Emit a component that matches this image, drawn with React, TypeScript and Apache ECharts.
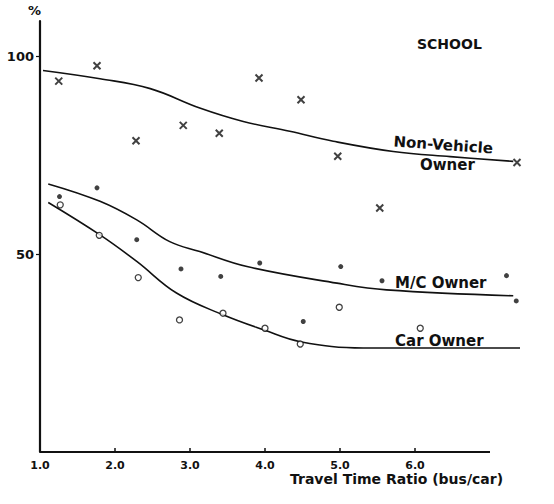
import React, { useEffect, useRef } from "react";
import * as echarts from "echarts";

// Scatter observations [travel time ratio, %]
const nonVehiclePoints: number[][] = [
  [1.25, 93.8], [1.76, 97.7], [2.28, 78.7], [2.91, 82.6], [3.39, 80.6],
  [3.92, 94.6], [4.48, 89.1], [4.97, 74.8], [5.53, 61.7], [7.36, 73.2],
];
const mcPoints: number[][] = [
  [1.26, 64.6], [1.76, 66.8], [2.29, 53.7], [2.88, 46.3], [3.41, 44.4],
  [3.93, 47.8], [4.51, 33.0], [5.01, 46.9], [5.56, 43.3], [7.22, 44.6], [7.35, 38.2],
];
const carPoints: number[][] = [
  [1.27, 62.5], [1.79, 54.8], [2.31, 44.1], [2.86, 33.4], [3.44, 35.1],
  [4.0, 31.3], [4.47, 27.3], [4.99, 36.6], [6.07, 31.3],
];

// Fitted curves
const nonVehicleCurve: number[][] = [
  [1.04, 96.5], [1.8, 94.4], [2.47, 91.9], [3.13, 87.0], [3.71, 83.6],
  [4.33, 81.1], [4.91, 78.6], [5.71, 76.0], [6.47, 74.7], [7.31, 73.5],
];
const mcCurve: number[][] = [
  [1.11, 67.8], [1.8, 63.4], [2.29, 58.7], [2.73, 53.2], [3.13, 50.7],
  [3.76, 46.9], [4.96, 42.7], [5.62, 41.0], [7.31, 39.5],
];
const carCurve: number[][] = [
  [1.11, 63.1], [1.8, 54.9], [2.29, 48.2], [2.82, 40.2], [3.44, 34.7],
  [3.98, 30.9], [4.47, 27.9], [5.31, 26.3], [7.4, 26.3],
];

const baseline: number[][] = [[1, 0], [7, 0]];
const xLabels = [1, 2, 3, 4, 5, 6];
const xTicks = [2, 3, 4, 5, 6];
const yLabels = [50, 100];

const FONT = "DejaVu Sans";
const INK = "#111";

export default function App() {
  const ref = useRef<HTMLDivElement>(null);
  useEffect(() => {
    if (!ref.current) return;
    const chart = echarts.init(ref.current, null, { renderer: "svg" });
    const curve = (data: number[][]) => ({
      type: "line",
      data,
      smooth: 0.4,
      showSymbol: false,
      symbol: "none",
      lineStyle: { color: INK, width: 1.6 },
      z: 2,
    });
    chart.setOption({
      animation: false,
      backgroundColor: "#fff",
      grid: { left: 40, right: 34, top: 21, bottom: 52 },
      xAxis: {
        type: "value",
        min: 1,
        max: 7.4,
        interval: 1,
        axisLine: { show: false },
        splitLine: { show: false },
        axisTick: {
          show: true,
          inside: true,
          length: 4,
          customValues: xTicks,
          lineStyle: { color: INK, width: 1.5 },
        },
        axisLabel: {
          customValues: xLabels,
          formatter: (v: number) => v.toFixed(1),
          color: INK,
          fontFamily: FONT,
          fontWeight: "bold",
          fontSize: 11,
          margin: 8,
        },
      },
      yAxis: {
        type: "value",
        min: 0,
        max: 109,
        axisLine: { show: true, lineStyle: { color: INK, width: 2.2 } },
        splitLine: { show: false },
        axisTick: {
          show: true,
          length: 4,
          customValues: yLabels,
          lineStyle: { color: INK, width: 1.2 },
        },
        axisLabel: {
          customValues: yLabels,
          color: INK,
          fontFamily: FONT,
          fontWeight: "bold",
          fontSize: 13,
          margin: 6,
        },
      },
      series: [
        {
          type: "line",
          data: baseline,
          showSymbol: false,
          symbol: "none",
          lineStyle: { color: INK, width: 2.2 },
          z: 1,
        },
        curve(nonVehicleCurve),
        curve(mcCurve),
        curve(carCurve),
        {
          type: "scatter",
          data: nonVehiclePoints,
          symbol: "path://M0 0L10 10M10 0L0 10",
          symbolSize: 7,
          itemStyle: { color: INK, borderColor: INK, borderWidth: 2 },
          z: 3,
        },
        {
          type: "scatter",
          data: mcPoints,
          symbol: "circle",
          symbolSize: 5,
          itemStyle: { color: INK },
          z: 3,
        },
        {
          type: "scatter",
          data: carPoints,
          symbol: "circle",
          symbolSize: 6,
          itemStyle: { color: "#fff", borderColor: INK, borderWidth: 1.3 },
          z: 3,
        },
      ],
      graphic: [
        {
          type: "text",
          left: 28,
          top: 4,
          style: { text: "%", fill: INK, font: `bold 13px "${FONT}"` },
        },
        {
          type: "text",
          left: 417,
          top: 37,
          style: { text: "SCHOOL", fill: INK, font: `bold 14px "${FONT}"` },
        },
        {
          type: "text",
          left: 393,
          top: 134,
          rotation: -0.07,
          style: { text: "Non-Vehicle", fill: INK, font: `bold 15px "${FONT}"` },
        },
        {
          type: "text",
          left: 420,
          top: 157,
          style: { text: "Owner", fill: INK, font: `bold 15px "${FONT}"` },
        },
        {
          type: "text",
          left: 395,
          top: 275,
          style: { text: "M/C Owner", fill: INK, font: `bold 15px "${FONT}"` },
        },
        {
          type: "text",
          left: 395,
          top: 333,
          style: { text: "Car Owner", fill: INK, font: `bold 15px "${FONT}"` },
        },
        {
          type: "text",
          left: 290,
          top: 472,
          style: {
            text: "Travel Time Ratio (bus/car)",
            fill: INK,
            font: `bold 14px "${FONT}"`,
          },
        },
      ],
    });
    return () => chart.dispose();
  }, []);
  return (
    <div
      ref={ref}
      style={{ position: "absolute", left: 0, top: 0, width: 554, height: 504 }}
    />
  );
}
